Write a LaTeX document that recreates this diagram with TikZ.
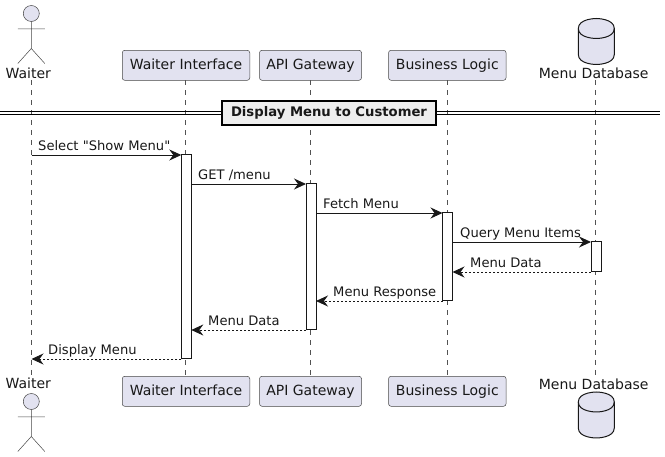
\documentclass[tikz,border=0pt]{standalone}
\usepackage{fontspec}
\setmainfont{DejaVu Sans}[Ligatures=TeXOff]
\usetikzlibrary{arrows.meta}
\definecolor{partfill}{HTML}{E2E2F0}
\definecolor{ink}{HTML}{181818}
\definecolor{framefill}{HTML}{EEEEEE}
\tikzset{
  partbox/.style={draw=ink!80,fill=partfill,line width=0.5pt,rounded corners=2.5pt,minimum height=30pt,inner sep=0pt,outer sep=0pt,text height=10.5pt,text depth=2.7pt,font=\fontsize{14}{16}\selectfont,text=ink},
  lifeline/.style={draw=ink!75,line width=0.5pt,dash pattern=on 5pt off 5pt},
  activation/.style={draw=ink,fill=white,line width=1pt,inner sep=0pt,outer sep=0pt,minimum width=10pt},
  msg/.style={draw=ink,line width=0.9pt,-{Stealth[length=12pt,width=11pt,inset=4pt]}},
  ret/.style={msg,dash pattern=on 2pt off 2pt},
  msglabel/.style={anchor=base west,inner sep=0pt,font=\fontsize{13.1}{15}\selectfont,text=ink},
  actorlabel/.style={inner sep=0pt,font=\fontsize{14}{16}\selectfont,text=ink},
  actorline/.style={draw=ink!80,line width=0.5pt,fill=partfill},
  dbshape/.style={draw=ink,line width=1pt,fill=partfill},
}
\newcommand{\actorfig}[2]{%
  \draw[actorline] (#1,#2) circle (8);
  \draw[actorline,fill=none] (#1,#2+8) -- (#1,#2+35) (#1-13.5,#2+15.5) -- (#1+13.5,#2+15.5)
    (#1-13.5,#2+50) -- (#1,#2+35) -- (#1+13.5,#2+50);
}
\newcommand{\dbfig}[2]{%
  \draw[dbshape] (#1-18,#2+10) .. controls (#1-18,#2) and (#1,#2) .. (#1,#2)
    .. controls (#1,#2) and (#1+18,#2) .. (#1+18,#2+10)
    -- (#1+18,#2+36) .. controls (#1+18,#2+46) and (#1,#2+46) .. (#1,#2+46)
    .. controls (#1,#2+46) and (#1-18,#2+46) .. (#1-18,#2+36) -- cycle;
  \draw[dbshape,fill=none] (#1-18,#2+10) .. controls (#1-18,#2+20) and (#1,#2+20) .. (#1,#2+20)
    .. controls (#1,#2+20) and (#1+18,#2+20) .. (#1+18,#2+10);
}
\begin{document}
\begin{tikzpicture}[x=1pt,y=-1pt]
\useasboundingbox (0,0) rectangle (665,457);
% top and bottom participant anchors
\coordinate (wt) at (31.5,80);  \coordinate (wb) at (31.5,376);
\coordinate (dt) at (595.5,80); \coordinate (db) at (595.5,376);
\node[partbox,minimum width=127.5pt] (uit) at (186,65.3) {Waiter Interface};
\node[partbox,minimum width=127.5pt] (uib) at (186,391.3) {Waiter Interface};
\node[partbox,minimum width=102pt] (gwt) at (310.5,65.3) {API Gateway};
\node[partbox,minimum width=102pt] (gwb) at (310.5,391.3) {API Gateway};
\node[partbox,minimum width=117.5pt] (blt) at (447.3,65.3) {Business Logic};
\node[partbox,minimum width=117.5pt] (blb) at (447.3,391.3) {Business Logic};
% lifelines
\draw[lifeline] (wt) -- (wb);
\draw[lifeline] (uit.south -| 185.3,0) -- (uib.north -| 185.3,0);
\draw[lifeline] (gwt) -- (gwb);
\draw[lifeline] (blt) -- (blb);
\draw[lifeline] (dt) -- (db);
% activations
\node[activation,minimum height=204pt] (a1) at (186.3,257) {};
\node[activation,minimum height=146pt] (a2) at (311,257) {};
\node[activation,minimum height=88pt]  (a3) at (447.5,257) {};
\node[activation,minimum height=30pt]  (a4) at (596,257) {};
% actors and database
\actorfig{31.3}{13.5}
\actorfig{31.3}{401.5}
\dbfig{596.3}{18.5}
\dbfig{596.3}{392}
\node[actorlabel] (wlt) at (28.3,73) {Waiter};
\node[actorlabel] (wlb) at (28.3,383.5) {Waiter};
\node[actorlabel] (dlt) at (593.7,73) {Menu Database};
\node[actorlabel] (dlb) at (593.7,384) {Menu Database};
% divider
\draw[black,line width=1pt] (0,111.5) -- (660,111.5) (0,114.5) -- (660,114.5);
\node[draw=black,fill=framefill,line width=2pt,minimum width=214pt,minimum height=24pt,inner sep=0pt,font=\bfseries\fontsize{13.2}{15}\selectfont,text=ink] (frame) at (329,113) {Display Menu to Customer};
% messages
\coordinate (m1) at (31.5,155); \coordinate (m8) at (31.5,359);
\draw[msg] (m1) -- (a1.north west);
\draw[msg] (a1.east |- 0,184) -- (a2.north west);
\draw[msg] (a2.east |- 0,213) -- (a3.north west);
\draw[msg] (a3.east |- 0,242) -- (a4.north west);
\draw[ret] (a4.south west) -- (a3.east |- a4.south);
\draw[ret] (a3.south west) -- (a2.east |- a3.south);
\draw[ret] (a2.south west) -- (a1.east |- a2.south);
\draw[ret] (a1.south west) -- (m8);
% labels
\node[msglabel] (t1) at (38,150.5) {Select "Show Menu"};
\node[msglabel] (t2) at (198,180) {GET /menu};
\node[msglabel] (t3) at (323,209) {Fetch Menu};
\node[msglabel] (t4) at (460,238) {Query Menu Items};
\node[msglabel] (t5) at (470,267.5) {Menu Data};
\node[msglabel] (t6) at (333,297) {Menu Response};
\node[msglabel] (t7) at (208,326) {Menu Data};
\node[msglabel] (t8) at (48,355) {Display Menu};
\end{tikzpicture}
\end{document}
